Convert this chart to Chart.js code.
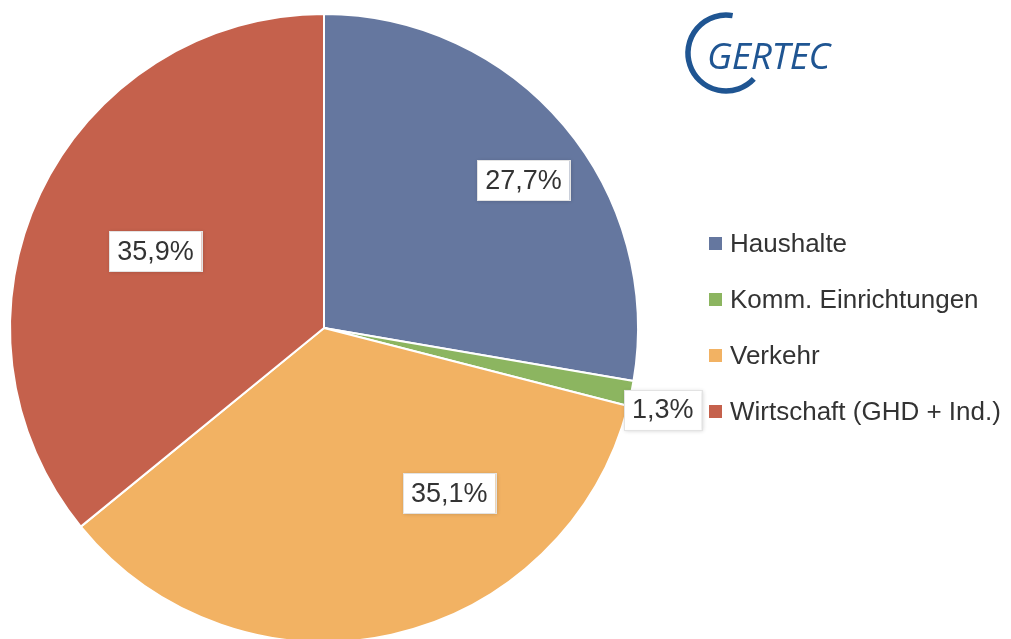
<!DOCTYPE html>
<html><head><meta charset="utf-8">
<script src="https://cdn.jsdelivr.net/npm/chart.js@4/dist/chart.umd.min.js"></script>
<style>
html,body{margin:0;padding:0;width:1011px;height:639px;overflow:hidden;background:#fff;font-family:"Liberation Sans",Arial,sans-serif;}
#wrap{position:absolute;left:0;top:0;width:730px;height:656px;}
#legend{position:absolute;left:709px;top:0;}
.li{position:absolute;left:0;white-space:nowrap;font-size:26px;color:#333;line-height:30px;}
.li span.m{position:absolute;left:0;top:9px;width:13px;height:13px;}
.li span.t{position:absolute;left:21px;top:0;}
#logo{position:absolute;left:670px;top:10px;width:170px;height:90px;}
#logotext{position:absolute;left:707px;top:35px;font-family:"Open Sans",sans-serif;font-style:italic;font-size:37px;color:#1f5592;letter-spacing:-0.3px;line-height:40px;}
</style></head>
<body>
<div id="wrap"><canvas id="c"></canvas></div>
<svg id="logo" width="170" height="90" viewBox="0 0 170 90">
  <path d="M 62.6 5.6 A 38 38 0 1 0 83.8 68.9" fill="none" stroke="#1f5592" stroke-width="5.5" stroke-linecap="butt"/>
</svg>
<div id="logotext">GERTEC</div>
<div id="legend"></div>
<script>
const categories = ["Haushalte", "Komm. Einrichtungen", "Verkehr", "Wirtschaft (GHD + Ind.)"];
const values = [27.7, 1.3, 35.1, 35.9];
const valueLabels = ["27,7%", "1,3%", "35,1%", "35,9%"];
const colors = ["#65779f", "#8cb560", "#f2b263", "#c5614c"];

// label placement (angle from top in degrees, fraction of radius)
const labelPlacement = [[53.5, 0.79], [103.6, 1.11], [142.8, 0.66], [294.5, 0.59]];

const labelPlugin = {
  id: 'boxLabels',
  afterDatasetsDraw(chart) {
    const ctx = chart.ctx;
    const meta = chart.getDatasetMeta(0);
    meta.data.forEach((arc, i) => {
      const [deg, frac] = labelPlacement[i];
      const a = (deg - 90) * Math.PI / 180;
      const r = arc.outerRadius * frac;
      const x = arc.x + Math.cos(a) * r;
      const y = arc.y + Math.sin(a) * r;
      ctx.save();
      ctx.font = '27px "Liberation Sans", Arial, sans-serif';
      const txt = valueLabels[i];
      const w = ctx.measureText(txt).width + 16;
      const h = 40;
      ctx.shadowColor = 'rgba(0,0,0,0.18)';
      ctx.shadowBlur = 4;
      ctx.shadowOffsetX = 1;
      ctx.shadowOffsetY = 1;
      ctx.fillStyle = '#fff';
      ctx.fillRect(x - w/2, y - h/2, w, h);
      ctx.shadowColor = 'transparent';
      ctx.strokeStyle = '#e3e3e3';
      ctx.lineWidth = 1;
      ctx.strokeRect(Math.round(x - w/2) + 0.5, Math.round(y - h/2) + 0.5, Math.round(w), h);
      ctx.fillStyle = '#333';
      ctx.textAlign = 'center';
      ctx.textBaseline = 'middle';
      ctx.fillText(txt, x, y + 1);
      ctx.restore();
    });
  }
};

new Chart(document.getElementById('c'), {
  type: 'pie',
  data: {
    labels: categories,
    datasets: [{ data: values, backgroundColor: colors, borderColor: '#ffffff', borderWidth: 2 }]
  },
  options: {
    responsive: true,
    maintainAspectRatio: false,
    animation: false,
    layout: { padding: { left: 9, top: 9, bottom: 9, right: 91 } },
    plugins: { legend: { display: false }, tooltip: { enabled: false } }
  },
  plugins: [labelPlugin]
});

const lg = document.getElementById('legend');
const rowTops = [228, 284, 340, 396];
categories.forEach((c, i) => {
  const d = document.createElement('div');
  d.className = 'li';
  d.style.top = rowTops[i] + 'px';
  d.innerHTML = '<span class="m" style="background:' + colors[i] + '"></span><span class="t">' + c + '</span>';
  lg.appendChild(d);
});
</script>
</body></html>
